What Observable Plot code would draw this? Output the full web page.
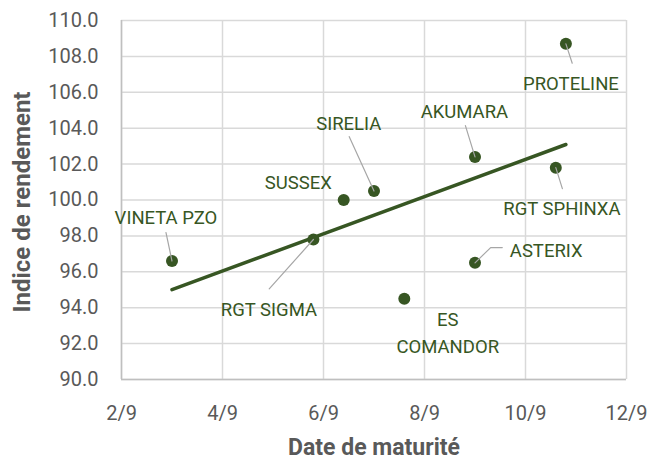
<!DOCTYPE html>
<html><head><meta charset="utf-8">
<script src="https://cdn.jsdelivr.net/npm/d3@7"></script>
<script src="https://cdn.jsdelivr.net/npm/@observablehq/plot@0.6"></script>
<style>body{margin:0;background:#fff} #chart svg{display:block}</style>
</head><body><div id="chart"></div>
<script>
// ---- data ----
const varieties   = ["PROTELINE","AKUMARA","RGT SPHINXA","SIRELIA","SUSSEX","RGT SIGMA","VINETA PZO","ASTERIX","ES COMANDOR"];
const labelText   = ["PROTELINE","AKUMARA","RGT SPHINXA","SIRELIA","SUSSEX","RGT SIGMA","VINETA PZO","ASTERIX","ES\nCOMANDOR"];
const maturityDay = [10.8, 9.0, 10.6, 7.0, 6.4, 5.8, 3.0, 9.0, 7.6];   // day of September
const yieldIndex  = [108.7, 102.4, 101.8, 100.5, 100.0, 97.8, 96.6, 96.5, 94.5];
const xTicks      = [2, 4, 6, 8, 10, 12];
const xTickLabels = ["2/9","4/9","6/9","8/9","10/9","12/9"];
const yTicks      = [90, 92, 94, 96, 98, 100, 102, 104, 106, 108, 110];
const yTickLabels = ["90.0","92.0","94.0","96.0","98.0","100.0","102.0","104.0","106.0","108.0","110.0"];

// ---- annotation layout (offsets from each point, in data units: days, index points) ----
const labelOffset = [[0.10,-2.10],[-0.21,2.67],[0.12,-2.16],[-0.50,3.90],[-0.90,1.08],[-0.88,-3.77],[-0.12,2.52],[1.41,0.82],[0.86,-1.80]];
const leaderPath  = [
  [[0,0],[0.125,-1.08]],
  [[0,0],[-0.19,1.74]],
  [[0,0],[0.13,-1.17]],
  [[0,0],[-0.49,3.03]],
  [],
  [[0,0],[-0.875,-2.75]],
  [[0,0],[-0.12,1.59]],
  [[0,0],[0.31,0.85],[0.54,0.85]],
  []
];

const data = varieties.map((name, i) => ({
  name, x: maturityDay[i], y: yieldIndex[i], label: labelText[i],
  lx: maturityDay[i] + labelOffset[i][0], ly: yieldIndex[i] + labelOffset[i][1]
}));
const leaders = data.flatMap((d, i) => leaderPath[i].map(([dx, dy]) => ({name: d.name, x: d.x + dx, y: d.y + dy})));

const green = "#375623", gray = "#595959";

const chart = Plot.plot({
  width: 651, height: 460,
  marginLeft: 121, marginRight: 25, marginTop: 20, marginBottom: 81,
  style: {fontFamily: "Roboto, sans-serif", fontSize: "20px", color: gray, background: "#fff", overflow: "visible"},
  x: {domain: [2, 12], label: null},
  y: {domain: [90, 110], label: null},
  marks: [
    Plot.gridX(xTicks, {stroke: "#d9d9d9", strokeOpacity: 1, strokeWidth: 1.5}),
    Plot.gridY(yTicks, {stroke: "#d9d9d9", strokeOpacity: 1, strokeWidth: 1.5}),
    Plot.ruleX([2], {stroke: "#bfbfbf", strokeWidth: 1.5}),
    Plot.ruleY([90], {stroke: "#bfbfbf", strokeWidth: 1.5}),
    Plot.axisX(xTicks, {tickSize: 0, tickPadding: 26, tickFormat: d => xTickLabels[xTicks.indexOf(d)], fill: gray, fontSize: 20, label: null}),
    Plot.axisY(yTicks, {tickSize: 0, tickPadding: 23, tickFormat: d => yTickLabels[yTicks.indexOf(d)], fill: gray, fontSize: 20, label: null}),
    Plot.linearRegressionY(data, {x: "x", y: "y", stroke: green, strokeWidth: 3.5, ci: 0}),
    Plot.dot(data, {x: "x", y: "y", r: 6, fill: green, stroke: null}),
    Plot.line(leaders, {x: "x", y: "y", z: "name", stroke: "#a6a6a6", strokeWidth: 1.2}),
    Plot.text(data, {x: "lx", y: "ly", text: "label", fill: green, fontSize: 18.5, lineHeight: 1.44, textAnchor: "middle", lineAnchor: "middle"}),
    Plot.text(["Date de maturité"], {text: d => d, frameAnchor: "bottom", dy: 68, fontWeight: "bold", fontSize: 23, fill: gray, textAnchor: "middle", lineAnchor: "middle"}),
    Plot.text(["Indice de rendement"], {text: d => d, frameAnchor: "left", dx: -99.5, dy: 2, rotate: -90, fontWeight: "bold", fontSize: 24, fill: gray, textAnchor: "middle", lineAnchor: "middle"})
  ]
});
document.getElementById("chart").append(chart);
</script>
</body></html>
